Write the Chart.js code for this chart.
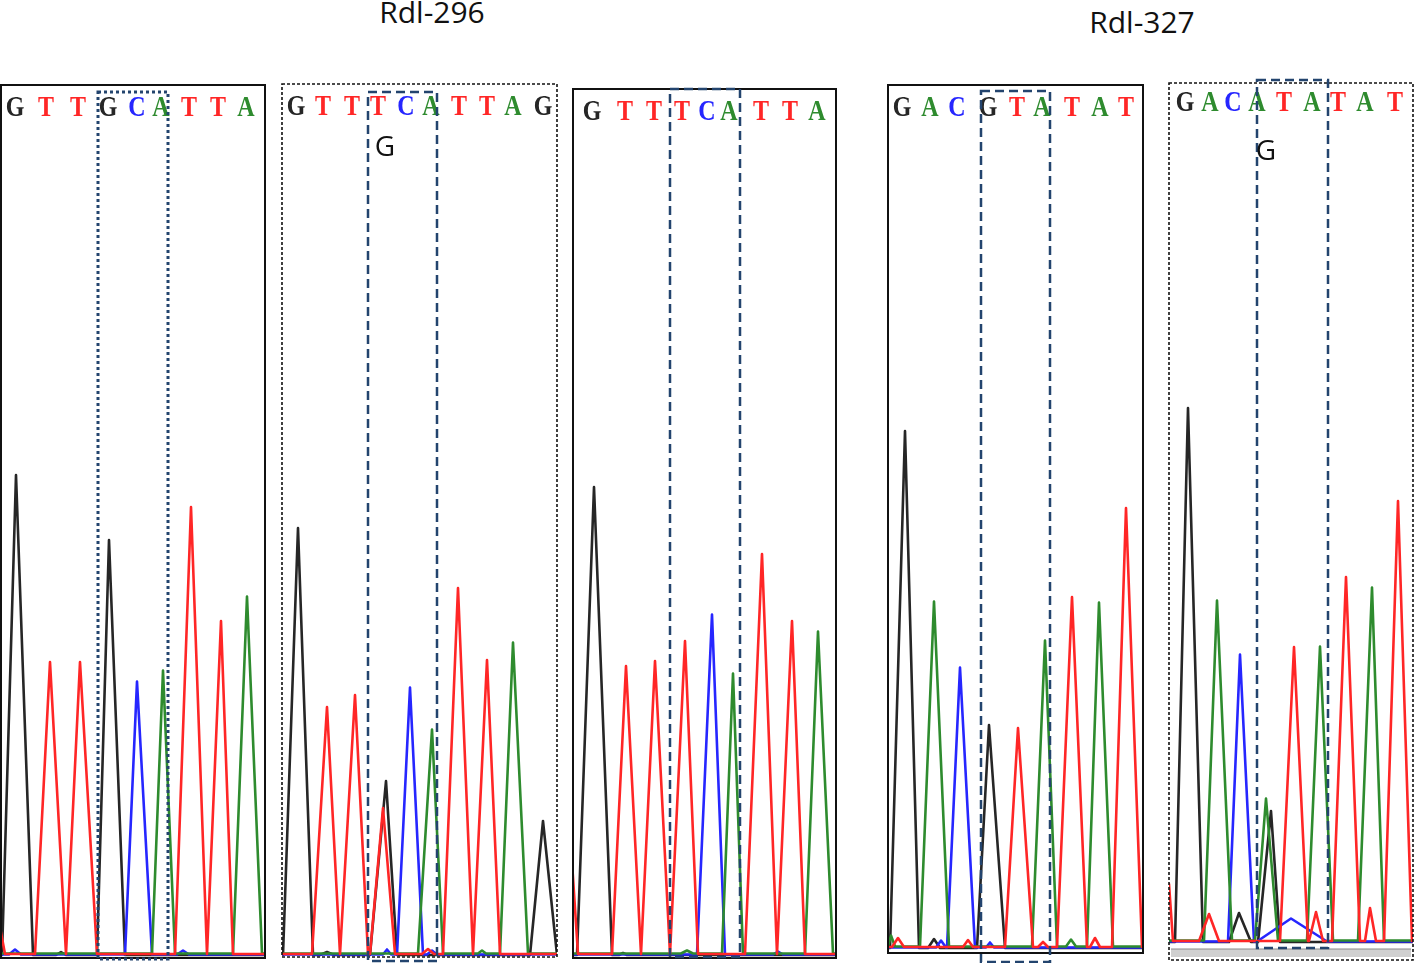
<!DOCTYPE html>
<html><head><meta charset="utf-8">
<script src="https://cdn.jsdelivr.net/npm/chart.js@4/dist/chart.umd.min.js"></script>
<style>
html,body{margin:0;padding:0;background:#fff;}
body{width:1417px;height:963px;position:relative;overflow:hidden;}
.title{position:absolute;font-family:"Open Sans";font-size:30px;color:#111;transform:translateX(-50%);white-space:nowrap;line-height:1;}
canvas{position:absolute;}
</style></head><body>
<div class="title" style="left:432px;top:-3px">Rdl-296</div>
<div class="title" style="left:1142px;top:7px">Rdl-327</div>
<script>
// ===== DATA =====
// Peaks: [left foot, apex, right foot, apex height] (scan units, signal units)
const p1Black = [[1,15,32,483],[55,60,65,6],[96,108,124,418]];
const p1Red   = [[-10,-2,4,35],[34,49,65,295],[65,79,96,295],[174,190,206,450],[206,220,232,336]];
const p1Blue  = [[8,14,20,8],[124,136,151,276],[176,182,188,7]];
const p1Green = [[151,162,174,286],[232,246,261,360]];

const p2Black = [[1,16,31,430],[38,45,52,6],[88,104,115,177],[248,261,275,137]];
const p2Red   = [[30,45,58,250],[58,73,86,262],[88,101,113,149],[140,146,152,8],[161,176,191,369],[191,205,218,297]];
const p2Blue  = [[101,105,109,8],[115,128,141,270],[145,150,155,7]];
const p2Green = [[136,150,161,227],[196,200,204,6],[218,231,246,314]];

const p3Black = [[4,21,39,471],[46,50,54,5]];
const p3Red   = [[-12,-2,5,110],[39,53,68,291],[68,82,97,296],[97,112,125,316],[172,189,204,403],[204,219,232,336]];
const p3Blue  = [[124,139,152,343],[200,205,210,6]];
const p3Green = [[108,114,120,6],[149,160,170,283],[232,245,260,325]];

const p4Black = [[2,17,31,520],[40,46,52,12],[89,101,117,226]];
const p4Red   = [[4,10,16,12],[75,80,85,10],[117,130,145,222],[150,155,160,8],[169,184,199,353],[202,207,212,12],[224,238,254,442]];
const p4Blue  = [[48,53,58,10],[59,72,87,283],[98,102,106,8]];
const p4Green = [[0,3,7,14],[32,46,61,348],[144,157,169,309],[178,183,188,10],[199,211,225,347]];

const p5Black = [[6,19,34,537],[60,70,82,32],[89,102,111,134]];
const p5Red   = [[-8,0,4,60],[30,40,50,30],[111,125,139,297],[140,147,154,32],[163,177,191,367],[196,201,207,36],[215,229,243,443]];
const p5Blue  = [[59,71,85,290],[88,122,158,26]];
const p5Green = [[35,48,63,343],[86,97,109,145],[138,151,164,297],[189,203,215,356]];

// Base calls (tick labels) and their scan positions
const seq1 = ['G','T','T','G','C','A','T','T','A'];
const pos1 = [14,45,77,107,136,160,188,217,245];
const seq2 = ['G','T','T','T','C','A','T','T','A','G'];
const pos2 = [14,41,70,96,124,149,177,205,231,261];
const seq3 = ['G','T','T','T','C','A','T','T','A'];
const pos3 = [19,52,81,109,134,156,188,217,244];
const seq4 = ['G','A','C','G','T','A','T','A','T'];
const pos4 = [14,42,69,100,129,154,184,212,238];
const seq5 = ['G','A','C','A','T','A','T','A','T'];
const pos5 = [16,41,64,88,115,143,169,196,226];

const titles = ['Rdl-296','Rdl-327'];
const mutLabel = 'G';

// ===== STYLE / LAYOUT =====
const colors = {G:'#262626', T:'#ff2626', C:'#2626ff', A:'#2e8b2e'};
const panels = [
  {L:1,   T:85, R:265,  B:958, dash:[], base:3,  peaks:[p1Red,p1Green,p1Blue,p1Black], seq:seq1, pos:pos1, letterY:850, box:[97,167,866,-1], boxDash:[3,3], boxW:3},
  {L:282, T:84, R:557,  B:957, dash:[3,2], base:2, peaks:[p2Red,p2Green,p2Blue,p2Black], seq:seq2, pos:pos2, letterY:850, box:[86,155,865,-4], boxDash:[9,5], boxW:2.5, mut:[103,809]},
  {L:573, T:89, R:836,  B:958, dash:[], base:3,  peaks:[p3Red,p3Green,p3Blue,p3Black], seq:seq3, pos:pos3, letterY:846, box:[97,167,869,1], boxDash:[9,5], boxW:2.5},
  {L:888, T:85, R:1143, B:953, dash:[], base:5,  peaks:[p4Red,p4Green,p4Blue,p4Black], seq:seq4, pos:pos4, letterY:845, box:[93,162,862,-9], boxDash:[9,5], boxW:2.5},
  {L:1169,T:83, R:1413, B:960, dash:[3,2], base:18, peaks:[p5Red,p5Green,p5Blue,p5Black], seq:seq5, pos:pos5, letterY:857, box:[88,159,880,12], boxDash:[9,5], boxW:2.5, mut:[97,808], band:true}
];
const traceColors = ['#ff2626','#2e8b2e','#2626ff','#262626'];
const baseOff = [1,1.5,0.5,0];

document.querySelectorAll('.title').forEach((el,i)=>{ el.textContent = titles[i]; });

function trace(peaks, base){
  const pts=[{x:-20,y:base}];
  peaks.forEach(p=>{ pts.push({x:p[0],y:base},{x:p[1],y:base+p[3]-3},{x:p[2],y:base}); });
  pts.push({x:400,y:base});
  return pts;
}

const deco = {
  id:'deco',
  afterDatasetsDraw(chart, args, o){
    const {ctx, chartArea:a, scales:{x,y}} = chart;
    const P = o.panel;
    ctx.save();
    if(P.band){
      ctx.fillStyle='#d0d0d0';
      const yt=y.getPixelForValue(11), yb=y.getPixelForValue(3);
      ctx.fillRect(a.left+2, yt, a.right-a.left-4, yb-yt);
      ctx.strokeStyle='#8a8a8a'; ctx.lineWidth=1;
      ctx.beginPath(); ctx.moveTo(a.left+2,yt); ctx.lineTo(a.right-2,yt); ctx.stroke();
    }
    // frame
    ctx.strokeStyle='#111'; ctx.lineWidth=P.dash.length?1.6:2; ctx.setLineDash(P.dash);
    ctx.strokeRect(a.left, a.top, a.right-a.left, a.bottom-a.top);
    // letters
    ctx.setLineDash([]);
    ctx.font='bold 24px "Liberation Serif"'; ctx.textAlign='center'; ctx.textBaseline='middle';
    P.seq.forEach((ch,i)=>{
      ctx.fillStyle=colors[ch];
      const px=x.getPixelForValue(P.pos[i]), py=y.getPixelForValue(P.letterY);
      ctx.save(); ctx.translate(px,py); ctx.scale(1,1.22); ctx.fillText(ch,0,0); ctx.restore();
    });
    // inner highlight box
    ctx.strokeStyle='#23446e'; ctx.lineWidth=P.boxW; ctx.setLineDash(P.boxDash);
    const bx0=x.getPixelForValue(P.box[0]), bx1=x.getPixelForValue(P.box[1]);
    const by0=y.getPixelForValue(P.box[2]), by1=y.getPixelForValue(P.box[3]);
    ctx.strokeRect(bx0,by0,bx1-bx0,by1-by0);
    // mutation label
    if(P.mut){
      ctx.setLineDash([]);
      ctx.font='28px "Open Sans"'; ctx.fillStyle='#111';
      ctx.fillText(mutLabel, x.getPixelForValue(P.mut[0]), y.getPixelForValue(P.mut[1]));
    }
    ctx.restore();
  }
};

panels.forEach((P,i)=>{
  const pad=8;
  const cv=document.createElement('canvas');
  const left=P.L-pad, top=P.T-pad, w=(P.R-P.L)+2*pad, h=963-top;
  cv.style.left=left+'px'; cv.style.top=top+'px';
  cv.style.width=w+'px'; cv.style.height=h+'px';
  cv.width=w; cv.height=h;
  document.body.appendChild(cv);
  new Chart(cv,{
    type:'line',
    data:{datasets:P.peaks.map((pk,k)=>({
      data:trace(pk,P.base+baseOff[k]),
      borderColor:traceColors[k], borderWidth:2.6, pointRadius:0, tension:0, fill:false,
      borderJoinStyle:'round'
    }))},
    options:{
      responsive:false, animation:false, devicePixelRatio:1,
      layout:{padding:{left:pad,right:pad,top:pad,bottom:963-P.B}},
      scales:{
        x:{type:'linear',min:0,max:P.R-P.L,display:false},
        y:{type:'linear',min:0,max:P.B-P.T,display:false}
      },
      plugins:{legend:{display:false},tooltip:{enabled:false},deco:{panel:P}}
    },
    plugins:[deco]
  });
});
</script>
</body></html>
